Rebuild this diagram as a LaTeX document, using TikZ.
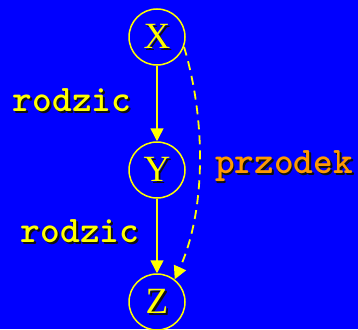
\documentclass[tikz,border=0pt]{standalone}
\usepackage{fontspec}
\usetikzlibrary{arrows.meta}
\newfontfamily\serifl{Liberation Serif}
\definecolor{bg}{HTML}{0000FF}
\definecolor{yel}{HTML}{FFFF00}
\definecolor{org}{HTML}{FF9900}
\definecolor{shd}{HTML}{101010}
\newcommand\shtx[1]{\rlap{\kern1.8pt\raisebox{-1.8pt}{\textcolor{shd}{#1}}}#1}
\tikzset{
  vtx/.style={circle, draw=yel, line width=1.5pt, minimum size=56pt, inner sep=0pt,
    text=yel, font=\serifl\fontsize{37}{37}\selectfont},
  lbl/.style={font=\ttfamily\bfseries\fontsize{37.5}{37.5}\selectfont, inner sep=0pt},
  edge/.style={draw=yel, line width=1.5pt, -{Triangle[length=13pt,width=13pt]}},
  dedge/.style={draw=yel, line width=1.8pt, dash pattern=on 9pt off 6pt,
    -{Triangle[length=13pt,width=13pt]}}
}
\begin{document}
\begin{tikzpicture}[x=1pt,y=-1pt]
\fill[bg] (0,0) rectangle (358,329);
\useasboundingbox (0,0) rectangle (358,329);
\node[vtx] (X) at (157,37) {\shtx{X}};
\node[vtx] (Y) at (157,170) {\shtx{Y}};
\node[vtx] (Z) at (157,302) {\shtx{Z}};
\draw[edge] (X) -- (Y);
\draw[edge] (Y) -- (Z);
\draw[dedge] (X.-20) .. controls (206,120) and (206,210) .. (Z.52);
\node[lbl, text=yel] (l1) at (72,101) {\shtx{rodzic}};
\node[lbl, text=yel] (l2) at (80,232) {\shtx{rodzic}};
\node[lbl, text=org] (l3) at (284,167) {\shtx{przodek}};
\end{tikzpicture}
\end{document}
